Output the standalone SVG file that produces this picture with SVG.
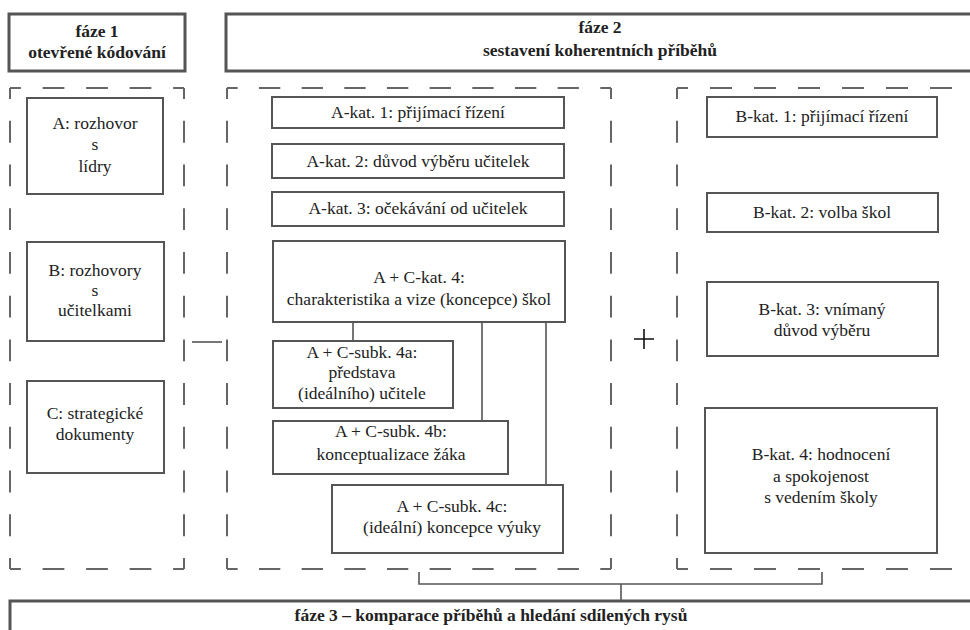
<svg xmlns="http://www.w3.org/2000/svg" width="970" height="630" viewBox="0 0 970 630">
<style>
.ph{fill:#fff;stroke:#555;stroke-width:3}
.bx{fill:#fff;stroke:#555;stroke-width:2}
.ds{fill:none;stroke:#666;stroke-width:2}
.cn{fill:none;stroke:#555;stroke-width:1.6}
text{font-family:"Liberation Serif","Times New Roman",serif;fill:#222;text-anchor:middle;font-size:17.5px}
.h{font-weight:bold}
</style>
<rect width="970" height="630" fill="#fff"/>
<g id="phase1"><rect class="ph" x="9" y="14" width="176" height="57"/>
<text class="h" x="97" y="37">fáze 1</text><text class="h" x="97" y="58">otevřené kódování</text></g>
<g id="phase2"><rect class="ph" x="226" y="14" width="760" height="57"/>
<text class="h" x="600" y="33">fáze 2</text><text class="h" x="600" y="56">sestavení koherentních příběhů</text></g>
<g id="group1">
<path class="ds" d="M10 88H184M10 569H184" stroke-dasharray="21.75 21.75" stroke-dashoffset="10.875"/>
<path class="ds" d="M10 88V569M184 88V569" stroke-dasharray="21.86 21.86" stroke-dashoffset="10.93"/>
</g>
<g id="groupA">
<path class="ds" d="M227 88H611M227 569H611" stroke-dasharray="21.33 21.33" stroke-dashoffset="10.67"/>
<path class="ds" d="M227 88V569M611 88V569" stroke-dasharray="21.86 21.86" stroke-dashoffset="10.93"/>
</g>
<g id="groupB">
<path class="ds" d="M677 88H1000M677 569H1000" stroke-dasharray="22 22" stroke-dashoffset="11"/>
<path class="ds" d="M677 88V569" stroke-dasharray="21.86 21.86" stroke-dashoffset="10.93"/>
</g>
<g id="connectors">
<path class="cn" d="M192 342H222"/>
<path class="cn" d="M353 322V341M482 322V421M546 322V485"/>
<path class="cn" d="M419 572V584H822V572M621 584V601"/>
<path d="M634 339H654M644 329V349" stroke="#111" stroke-width="1.6"/>
</g>
<g id="A"><rect class="bx" x="27" y="98" width="136" height="96"/>
<text x="95" y="129">A: rozhovor</text><text x="95" y="150">s</text><text x="95" y="172">lídry</text></g>
<g id="B"><rect class="bx" x="27" y="242" width="137" height="99"/>
<text x="95" y="276">B: rozhovory</text><text x="95" y="296">s</text><text x="95" y="316">učitelkami</text></g>
<g id="C"><rect class="bx" x="27" y="381" width="137" height="92"/>
<text x="95" y="419">C: strategické</text><text x="95" y="440">dokumenty</text></g>
<g id="Akat1"><rect class="bx" x="272" y="97" width="292" height="31"/><text x="418" y="118">A-kat. 1: přijímací řízení</text></g>
<g id="Akat2"><rect class="bx" x="272" y="144" width="292" height="34"/><text x="418" y="167">A-kat. 2: důvod výběru učitelek</text></g>
<g id="Akat3"><rect class="bx" x="272" y="192" width="292" height="34"/><text x="418" y="214">A-kat. 3: očekávání od učitelek</text></g>
<g id="ACkat4"><rect class="bx" x="273" y="241" width="292" height="81"/>
<text x="419" y="283">A + C-kat. 4:</text><text x="419" y="305">charakteristika a vize (koncepce) škol</text></g>
<g id="sub4a"><rect class="bx" x="273" y="341" width="180" height="67"/>
<text x="362" y="358">A + C-subk. 4a:</text><text x="362" y="378">představa</text><text x="362" y="399">(ideálního) učitele</text></g>
<g id="sub4b"><rect class="bx" x="273" y="421" width="235" height="53"/>
<text x="391" y="437">A + C-subk. 4b:</text><text x="391" y="460">konceptualizace žáka</text></g>
<g id="sub4c"><rect class="bx" x="332" y="485" width="231" height="68"/>
<text x="452" y="512">A + C-subk. 4c:</text><text x="452" y="533">(ideální) koncepce výuky</text></g>
<g id="Bkat1"><rect class="bx" x="707" y="97" width="230" height="40"/><text x="822" y="122">B-kat. 1: přijímací řízení</text></g>
<g id="Bkat2"><rect class="bx" x="707" y="193" width="231" height="39"/><text x="822" y="218">B-kat. 2: volba škol</text></g>
<g id="Bkat3"><rect class="bx" x="707" y="282" width="231" height="74"/>
<text x="822" y="315">B-kat. 3: vnímaný</text><text x="822" y="336">důvod výběru</text></g>
<g id="Bkat4"><rect class="bx" x="705" y="408" width="232" height="145"/>
<text x="821" y="460">B-kat. 4: hodnocení</text><text x="821" y="482">a spokojenost</text><text x="821" y="503">s vedením školy</text></g>
<g id="phase3"><rect class="ph" x="10" y="601" width="980" height="40"/>
<text class="h" x="491" y="621">fáze 3 – komparace příběhů a hledání sdílených rysů</text></g>
</svg>
